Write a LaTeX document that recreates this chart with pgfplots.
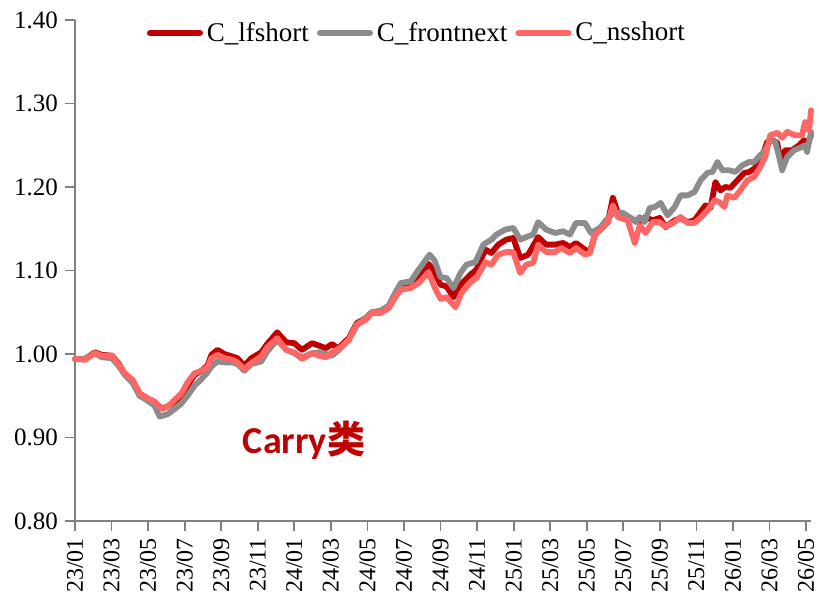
\documentclass[border=0pt]{standalone}
\usepackage{pgfplots}
\usepackage{pgfplotstable}
\pgfplotsset{compat=1.18}
\usepackage{fontspec}
\setmainfont{Liberation Serif}
\newfontfamily\carlito{Carlito}
\newfontfamily\cjk{Noto Sans CJK SC}
\definecolor{cred}{RGB}{192,0,0}
\definecolor{cgray}{RGB}{140,140,140}
\definecolor{cpink}{RGB}{255,102,102}
\definecolor{axgray}{RGB}{128,128,128}

% px: horizontal position, v: value
\pgfplotstableread{
px v
76 0.994
86 0.994
96 1.002
103 0.999
113 0.998
119 0.990
126 0.976
134 0.967
141 0.950
149 0.945
156 0.942
163 0.935
169 0.937
176 0.943
183 0.950
189 0.962
196 0.975
203 0.980
209 0.986
213 0.999
219 1.005
226 1.000
234 0.997
239 0.995
246 0.986
253 0.995
263 1.002
269 1.012
279 1.026
288 1.014
296 1.013
304 1.005
314 1.013
321 1.010
328 1.007
334 1.012
341 1.006
343 1.010
351 1.019
359 1.037
368 1.043
374 1.050
383 1.050
391 1.056
396 1.066
403 1.079
413 1.085
421 1.091
431 1.108
437 1.098
443 1.083
449 1.081
456 1.068
463 1.083
473 1.095
479 1.101
488 1.125
494 1.121
501 1.131
509 1.137
516 1.139
523 1.115
531 1.119
541 1.140
549 1.131
558 1.131
566 1.133
573 1.128
579 1.133
588 1.125
593 1.122
598 1.143
606 1.152
611 1.158
616 1.187
621 1.169
631 1.164
638 1.160
643 1.158
649 1.164
656 1.160
663 1.163
669 1.152
678 1.160
684 1.163
691 1.158
698 1.160
704 1.170
709 1.178
714 1.175
719 1.206
724 1.196
729 1.200
734 1.199
741 1.208
748 1.217
753 1.218
759 1.223
766 1.236
771 1.254
776 1.256
781 1.253
784 1.232
789 1.244
796 1.244
803 1.250
808 1.256
811 1.250
815 1.262
}\lfshort

\pgfplotstableread{
px v
76 0.994
86 0.994
96 1.001
103 0.996
113 0.995
119 0.987
126 0.975
134 0.965
141 0.950
149 0.944
156 0.938
161 0.925
169 0.928
176 0.934
183 0.941
189 0.950
196 0.962
203 0.970
209 0.978
213 0.985
219 0.991
226 0.990
234 0.990
239 0.988
246 0.980
253 0.988
263 0.991
269 1.003
279 1.017
288 1.005
296 1.001
304 0.996
314 1.001
321 1.002
328 1.000
334 0.998
341 1.005
351 1.017
359 1.035
368 1.043
374 1.050
383 1.052
391 1.058
396 1.070
403 1.085
413 1.087
421 1.101
432 1.119
437 1.112
443 1.092
449 1.091
456 1.079
463 1.097
469 1.107
478 1.110
486 1.131
494 1.137
499 1.143
508 1.149
516 1.151
523 1.137
531 1.141
536 1.143
541 1.158
549 1.149
558 1.145
566 1.147
573 1.143
579 1.157
588 1.157
594 1.145
603 1.151
609 1.160
616 1.169
626 1.169
634 1.163
639 1.158
643 1.164
648 1.158
653 1.175
658 1.176
664 1.181
671 1.166
678 1.176
684 1.190
691 1.190
698 1.194
704 1.208
711 1.217
716 1.218
721 1.230
726 1.220
733 1.220
739 1.218
746 1.226
753 1.230
758 1.230
764 1.238
769 1.244
774 1.256
779 1.254
783 1.236
786 1.220
791 1.236
798 1.244
804 1.247
809 1.250
811 1.242
815 1.266
}\frontnext

\pgfplotstableread{
px v
76 0.994
86 0.993
96 1.001
103 0.998
113 0.998
119 0.989
126 0.977
134 0.969
141 0.953
149 0.947
156 0.943
163 0.934
169 0.937
176 0.945
183 0.953
189 0.966
196 0.977
203 0.980
209 0.984
213 0.995
219 0.999
226 0.995
234 0.993
239 0.990
246 0.982
253 0.989
263 0.997
269 1.008
279 1.019
288 1.005
296 1.002
304 0.994
314 1.001
321 0.998
328 0.996
334 1.002
343 1.008
351 1.017
359 1.035
368 1.041
374 1.049
383 1.049
391 1.055
396 1.065
403 1.077
413 1.079
421 1.085
431 1.098
437 1.080
443 1.066
449 1.068
458 1.056
464 1.073
473 1.086
479 1.091
488 1.110
494 1.107
501 1.119
509 1.122
516 1.122
523 1.097
529 1.107
536 1.109
541 1.131
549 1.122
558 1.122
564 1.127
573 1.121
579 1.127
588 1.119
593 1.121
598 1.143
606 1.152
611 1.158
616 1.178
621 1.164
631 1.160
638 1.133
643 1.154
649 1.145
656 1.158
663 1.158
669 1.152
678 1.158
684 1.164
691 1.157
698 1.157
704 1.163
711 1.172
718 1.184
723 1.182
728 1.176
731 1.190
738 1.187
744 1.196
751 1.208
758 1.212
764 1.224
769 1.236
774 1.262
781 1.265
786 1.259
791 1.266
799 1.262
806 1.262
809 1.278
813 1.268
815 1.292
}\nsshort

\begin{document}
\begin{tikzpicture}
\begin{axis}[
  scale only axis,
  width=368pt, height=250.5pt,
  xmin=0, xmax=40.27,
  ymin=0.8, ymax=1.4,
  axis x line=bottom, axis y line=left,
  axis line style={axgray, line width=0.9pt, -},
  tick style={axgray, line width=0.9pt},
  tick align=outside,
  major tick length=5pt,
  xtick={0,2,4,6,8,10,12,14,16,18,20,22,24,26,28,30,32,34,36,38,40},
  xticklabels={23/01,23/03,23/05,23/07,23/09,23/11,24/01,24/03,24/05,24/07,24/09,24/11,25/01,25/03,25/05,25/07,25/09,25/11,26/01,26/03,26/05},
  x tick label style={rotate=90, anchor=east, font=\fontsize{12}{14}\selectfont},
  ytick={0.8,0.9,1.0,1.1,1.2,1.3,1.4},
  yticklabel style={/pgf/number format/fixed, /pgf/number format/fixed zerofill, /pgf/number format/precision=2, font=\fontsize{12.5}{14}\selectfont},
  /pgf/number format/assume math mode=true,
  legend columns=-1,
  legend style={draw=none, fill=none, at={(0.466,0.974)}, anchor=center,
    font=\fontsize{13.5}{15}\selectfont,
    /tikz/every even column/.append style={column sep=2pt},
    inner sep=0pt},
  legend image code/.code={\draw[#1, line width=3pt, line cap=round] (0pt,0pt) -- (25pt,0pt);},
  every axis plot/.append style={line width=2.9pt, line join=round, line cap=round},
  clip=false,
]
\addplot[cred] table[x expr=(\thisrow{px}-76)/18.35, y=v] {\lfshort};
\addlegendentry{C\_lfshort}
\addplot[cgray] table[x expr=(\thisrow{px}-76)/18.35, y=v] {\frontnext};
\addlegendentry{C\_frontnext}
\addplot[cpink] table[x expr=(\thisrow{px}-76)/18.35, y=v] {\nsshort};
\addlegendentry{C\_nsshort}
\node[text=cred, font=\fontsize{19}{21}\selectfont\bfseries, anchor=center] at (axis cs:12.53,0.897) {{\carlito Carry}{\cjk 类}};
\end{axis}
\pgfresetboundingbox
\path ([shift={(-37.5pt,-42.5pt)}]current axis.south west) rectangle ([shift={(4pt,10pt)}]current axis.north east);
\end{tikzpicture}
\end{document}
